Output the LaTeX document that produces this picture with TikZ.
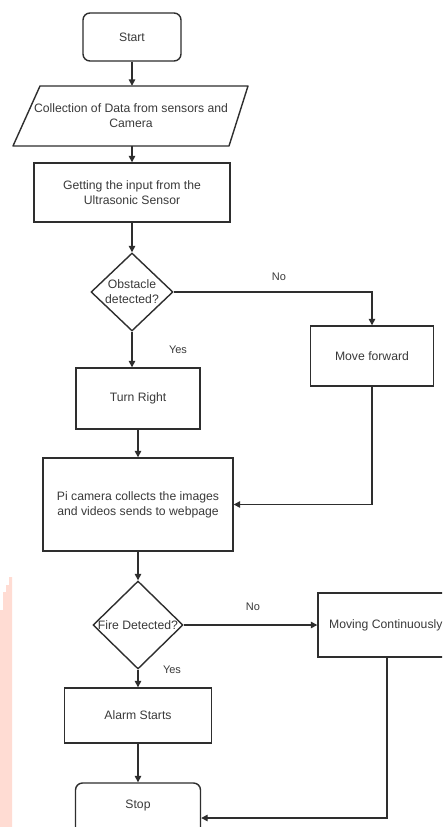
\documentclass[tikz,border=0pt]{standalone}
\usepackage{fontspec}
\setmainfont{Liberation Sans}
\usetikzlibrary{arrows.meta,shapes.geometric}
\definecolor{ln}{HTML}{2E2E2E}
\definecolor{tx}{HTML}{3A3A3A}
\definecolor{pinkband}{HTML}{FFDCD3}
\begin{document}
\begin{tikzpicture}[x=1pt,y=-1pt,
  shp/.style={draw=ln,line width=1.4pt,inner sep=0pt,align=center,text=tx,
              font=\fontsize{12.2}{15}\selectfont},
  procbox/.style={shp,rectangle},
  termbox/.style={shp,rectangle,rounded corners=7pt},
  decbox/.style={shp,diamond},
  txt/.style={inner sep=0pt,align=center,text=tx,font=\fontsize{12.2}{15}\selectfont},
  lbl/.style={inner sep=0pt,text=tx,font=\fontsize{11}{12}\selectfont},
  arr/.style={draw=ln,line width=1.4pt,-{Triangle[length=6.5pt,width=6.5pt]}}]
\useasboundingbox (0,0) rectangle (442,827);
\fill[white] (0,0) rectangle (442,827);
\clip (0,0) rectangle (442,827);
% pink band at left edge
\fill[pinkband] (0,610) -- (3,610) -- (3,592) -- (6,592) -- (6,585) -- (9,585) -- (9,577) -- (12,577) -- (12,827) -- (0,827) -- cycle;

\node[termbox,minimum width=98pt,minimum height=48pt] (start) at (132,37) {Start};
\node[txt,minimum width=190pt,minimum height=60pt] (data) at (131,116)
  {Collection of Data from sensors and\\Camera};
\draw[ln,line width=1.4pt,line join=round] (40,86) -- (248,86) -- (229,146) -- (13,146) -- cycle;
\node[procbox,minimum width=196pt,minimum height=59pt] (input) at (132,192.5)
  {Getting the input from the\\Ultrasonic Sensor};
\node[decbox,minimum width=82pt,minimum height=78pt] (obs) at (132,292) {};
\node[txt] (obstxt) at (obs.center) {Obstacle\\detected?};
\node[procbox,minimum width=123pt,minimum height=60pt] (fwd) at (372,356) {Move forward};
\node[procbox,minimum width=124pt,minimum height=61pt] (turn) at (138,398.5) {Turn Right};
\node[procbox,minimum width=190pt,minimum height=93pt] (pi) at (138,504.5)
  {Pi camera collects the images\\and videos sends to webpage};
\node[decbox,minimum width=90pt,minimum height=88pt] (fire) at (138,625) {};
\node[txt] (firetxt) at (fire.center) {Fire Detected?};
\node[procbox,minimum width=138pt,minimum height=64pt] (mov) at (387,625) {};
\node[txt,anchor=west] (movtxt) at (329,625) {Moving Continuously};
\node[procbox,minimum width=147pt,minimum height=55pt] (alarm) at (138,715.5) {Alarm Starts};
\node[termbox,minimum width=125pt,minimum height=70pt] (stop) at (138,818) {};
\node[txt] (stoptxt) at (138,805) {Stop};

\node[lbl] (no1) at (279,277) {No};
\node[lbl] (yes1) at (178,350) {Yes};
\node[lbl] (no2) at (253,607) {No};
\node[lbl] (yes2) at (172,670) {Yes};

\draw[arr] (start) -- (start.south |- data.north);
\draw[arr] (start.south |- data.south) -- (input);
\draw[arr] (input) -- (obs);
\draw[arr] (obs.east) -| (fwd.north);
\draw[arr] (obs.south) -- (obs.south |- turn.north);
\draw[arr] (turn) -- (pi);
\draw[arr] (fwd.south) |- (pi.east);
\draw[arr] (pi) -- (fire);
\draw[arr] (fire.east) -- (mov.west);
\draw[arr] (fire) -- (alarm);
\draw[arr] (alarm) -- (stop);
\draw[arr] (mov.south) |- (stop.east);
\end{tikzpicture}
\end{document}
